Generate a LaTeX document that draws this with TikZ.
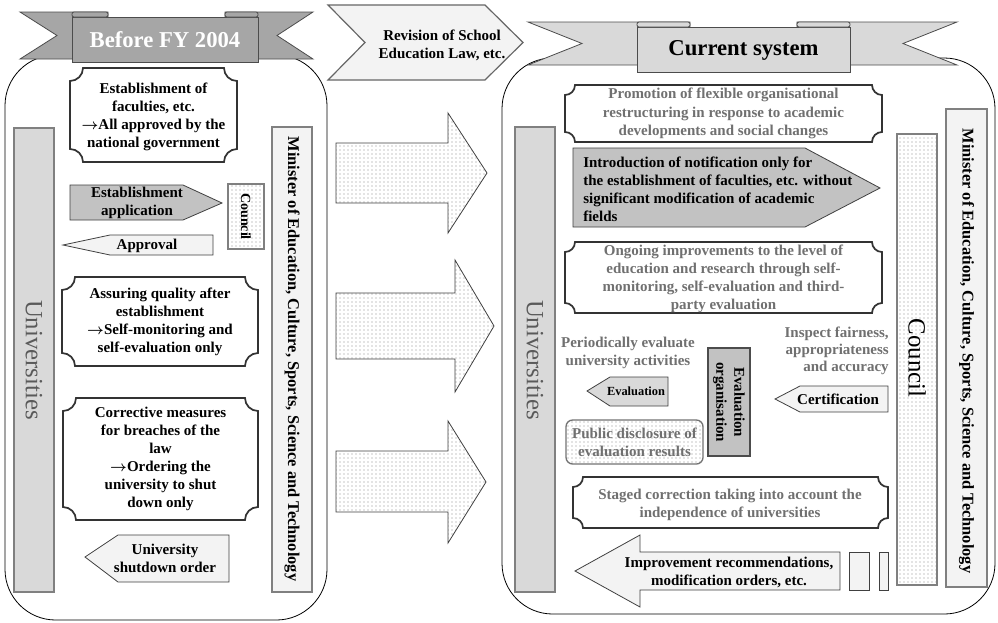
\documentclass[tikz,border=0pt]{standalone}
\usepackage{fontspec}
\setmainfont{Liberation Serif}
\usetikzlibrary{patterns}
\definecolor{gtxt}{HTML}{707070}
\definecolor{unitxt}{HTML}{5A5A5A}
\definecolor{fdark}{HTML}{C2C2C2}
\definecolor{fband}{HTML}{A6A6A6}
\definecolor{fmid}{HTML}{D9D9D9}
\definecolor{flight}{HTML}{F3F3F3}
\newcommand\szMain{\fontsize{11.25}{13.5}\selectfont}
\newcommand\szBig{\fontsize{18.6}{20}\selectfont}
\newcommand\szTitle{\fontsize{17}{20}\selectfont}
\newcommand\szMin{\fontsize{12.3}{14}\selectfont}
\newcommand\szSmall{\fontsize{9.3}{11}\selectfont}
\newcommand\rarr{$\boldsymbol{\rightarrow}$}
\usepackage{amsmath}
\newcommand\ticket[5]{\draw[ticketline] (#1,#2+#5) .. controls (#1+0.552*#5,#2+#5) and (#1+#5,#2+0.552*#5) .. (#1+#5,#2) -- (#3-#5,#2) .. controls (#3-#5,#2+0.552*#5) and (#3-0.552*#5,#2+#5) .. (#3,#2+#5) -- (#3,#4-#5) .. controls (#3-0.552*#5,#4-#5) and (#3-#5,#4-0.552*#5) .. (#3-#5,#4) -- (#1+#5,#4) .. controls (#1+#5,#4-0.552*#5) and (#1+0.552*#5,#4-#5) .. (#1,#4-#5) -- cycle;}
\tikzset{
  panel/.style={draw=black, line width=0.6pt, fill=white, rounded corners=38pt},
  ticketline/.style={draw=black!80, line width=1.3pt, fill=white},
  bar/.style={draw=black!50, line width=1.2pt},
  shp/.style={draw=black!75, line width=0.6pt},
  dotfill/.style={preaction={fill=white}, pattern=dots, pattern color=black!45},
  band/.style={draw=black!70, line width=0.6pt},
  txt/.style={font=\szMain\bfseries, align=center, inner sep=0pt},
  gtx/.style={txt, text=gtxt},
  unitx/.style={font=\szBig, text=unitxt, rotate=-90, inner sep=0pt},
  mintx/.style={font=\szMin\bfseries, rotate=-90, inner sep=0pt},
}
\begin{document}
\begin{tikzpicture}[x=0.75pt,y=-0.75pt]
\useasboundingbox (0,0) rectangle (998,622);
% panels
\path[panel] (5,55) rectangle (327,620);
\path[panel] (502,58) rectangle (995,614);
% left banner
\draw[band, fill=fband] (20,12) -- (108,12) -- (108,59) -- (20,59) -- (57,35.5) -- cycle;
\draw[band, fill=fband] (225,12) -- (313,12) -- (277,35.5) -- (313,59) -- (225,59) -- cycle;
\draw[band, fill=fband] (72,17) rectangle (258,62);
\draw[band, fill=fband, rounded corners=1.5pt] (72,12) rectangle (108,17);
\draw[band, fill=fband, rounded corners=1.5pt] (225,12) rectangle (258,17);
\node[font=\szTitle\bfseries, text=white, inner sep=0pt] (tbefore) at (165,40) {Before FY 2004};
% right banner
\draw[band, fill=fmid] (528,22) -- (690,22) -- (690,65) -- (528,65) -- (582,43.5) -- cycle;
\draw[band, fill=fmid] (797,22) -- (957,22) -- (903,43.5) -- (957,65) -- (797,65) -- cycle;
\draw[band, fill=fmid] (637,27) rectangle (850,72);
\draw[band, fill=fmid, rounded corners=1.5pt] (637,22) rectangle (690,27);
\draw[band, fill=fmid, rounded corners=1.5pt] (797,22) rectangle (850,27);
\node[font=\szTitle\bfseries, inner sep=0pt] (tcurrent) at (743.5,50) {Current system};
% chevron
\draw[draw=black!60, line width=0.9pt, fill=flight] (328,5) -- (485,5) -- (523,42.5) -- (485,80) -- (328,80) -- (365,42.5) -- cycle;
\node[txt] (revision) at (442,45) {Revision of School\\Education Law, etc.};
% ---------- left panel ----------
\draw[bar, fill=fmid] (14,128) rectangle (54,592);
\node[unitx] (univL) at (34,360) {Universities};
\draw[bar, fill=flight] (272,127) rectangle (312,592);
\node[mintx] (minL) at (292,359) {Minister of Education, Culture, Sports, Science and Technology};
\ticket{70}{68}{237}{162}{13}
\node[txt] (estab) at (153.5,117) {Establishment of\\faculties, etc.\\\rarr All approved by the\\national government};
\draw[shp, fill=fdark] (70,185) -- (183,185) -- (222,203) -- (183,220) -- (70,220) -- cycle;
\node[txt] (appl) at (137,203) {Establishment\\application};
\draw[bar, line width=0.9pt, dotfill] (228,184) rectangle (264,249);
\node[font=\fontsize{10.5}{12}\selectfont\bfseries, rotate=-90, inner sep=0pt] (councilL) at (246,216.5) {Council};
\draw[shp, fill=flight] (63,245) -- (110,235) -- (213,235) -- (213,255) -- (110,255) -- cycle;
\node[txt] (approval) at (147,246) {Approval};
\ticket{62}{277}{258}{366}{13}
\node[txt] (assure) at (160,321.5) {Assuring quality after\\establishment\\\rarr Self-monitoring and\\self-evaluation only};
\ticket{63}{398}{258}{520}{13}
\node[txt] (correct) at (160.5,459) {Corrective measures\\for breaches of the\\law\\\rarr Ordering the\\university to shut\\down only};
\draw[shp, fill=flight] (85,557) -- (118,535) -- (229,535) -- (229,582) -- (118,582) -- cycle;
\node[txt] (shutdown) at (165,558) {University\\shutdown order};
% ---------- middle arrows ----------
\draw[shp, dotfill] (336,143) -- (448,143) -- (448,113) -- (487,173) -- (448,233) -- (448,203) -- (336,203) -- cycle;
\draw[shp, dotfill] (336,293) -- (455,293) -- (455,260) -- (494,326) -- (455,392) -- (455,359) -- (336,359) -- cycle;
\draw[shp, dotfill] (336,451) -- (448,451) -- (448,421) -- (486,482) -- (448,543) -- (448,512) -- (336,512) -- cycle;
% ---------- right panel ----------
\draw[bar, fill=fmid] (515,127) rectangle (555,592);
\node[unitx] (univR) at (535,360) {Universities};
\draw[bar, dotfill] (897,134) rectangle (937,585);
\node[font=\szBig, rotate=-90, inner sep=0pt] (councilR) at (917,358) {Council};
\draw[bar, fill=flight] (946,109) rectangle (987,587);
\node[mintx] (minR) at (966.5,351) {Minister of Education, Culture, Sports, Science and Technology};
\ticket{565}{85}{882}{142}{10}
\node[gtx, font=\fontsize{11.25}{14}\selectfont\bfseries] (promo) at (723.5,113.5) {Promotion of flexible organisational\\restructuring in response to academic\\developments and social changes};
\draw[shp, fill=fdark] (573,148) -- (805,148) -- (880,188) -- (805,227) -- (573,227) -- cycle;
\node[txt, align=left, anchor=west] (intro) at (583,189) {Introduction of notification only for\\the establishment of faculties, etc. without\\significant modification of academic\\fields};
\ticket{565}{242}{882}{313}{10}
\node[gtx] (ongoing) at (723.5,279) {Ongoing improvements to the level of\\education and research through self-\\monitoring, self-evaluation and third-\\party evaluation};
\node[gtx] (period) at (628,353) {Periodically evaluate\\university activities};
\draw[shp, fill=fmid] (587,391) -- (610,377) -- (668,377) -- (668,406) -- (610,406) -- cycle;
\node[font=\szSmall\bfseries, inner sep=0pt] (evalarrow) at (636,391.5) {Evaluation};
\draw[bar, fill=fdark, draw=black!70, line width=0.8pt] (708,348) rectangle (750,456);
\node[txt, rotate=-90] (evalorg) at (729,402) {Evaluation\\organisation};
\draw[draw=black!55, line width=1pt, rounded corners=5pt, dotfill] (566,420) rectangle (703,464);
\node[gtx] (public) at (634.5,442) {Public disclosure of\\evaluation results};
\node[gtx, align=right, anchor=east, font=\fontsize{11.25}{12.8}\selectfont\bfseries] (inspect) at (889,351) {Inspect fairness,\\appropriateness\\and accuracy};
\draw[shp, fill=flight] (775,399) -- (800,386) -- (888,386) -- (888,412) -- (800,412) -- cycle;
\node[txt] (certif) at (838,399.5) {Certification};
\ticket{573}{477}{888}{528}{10}
\node[gtx] (staged) at (730,505) {Staged correction taking into account the\\independence of universities};
\draw[shp, fill=flight] (575,571) -- (640,535) -- (640,552) -- (840,552) -- (840,590) -- (640,590) -- (640,607) -- cycle;
\draw[shp, fill=flight] (849,552) rectangle (869,590);
\draw[shp, fill=flight] (879,552) rectangle (888,590);
\node[txt] (improve) at (729,572) {Improvement recommendations,\\modification orders, etc.};
\end{tikzpicture}
\end{document}
